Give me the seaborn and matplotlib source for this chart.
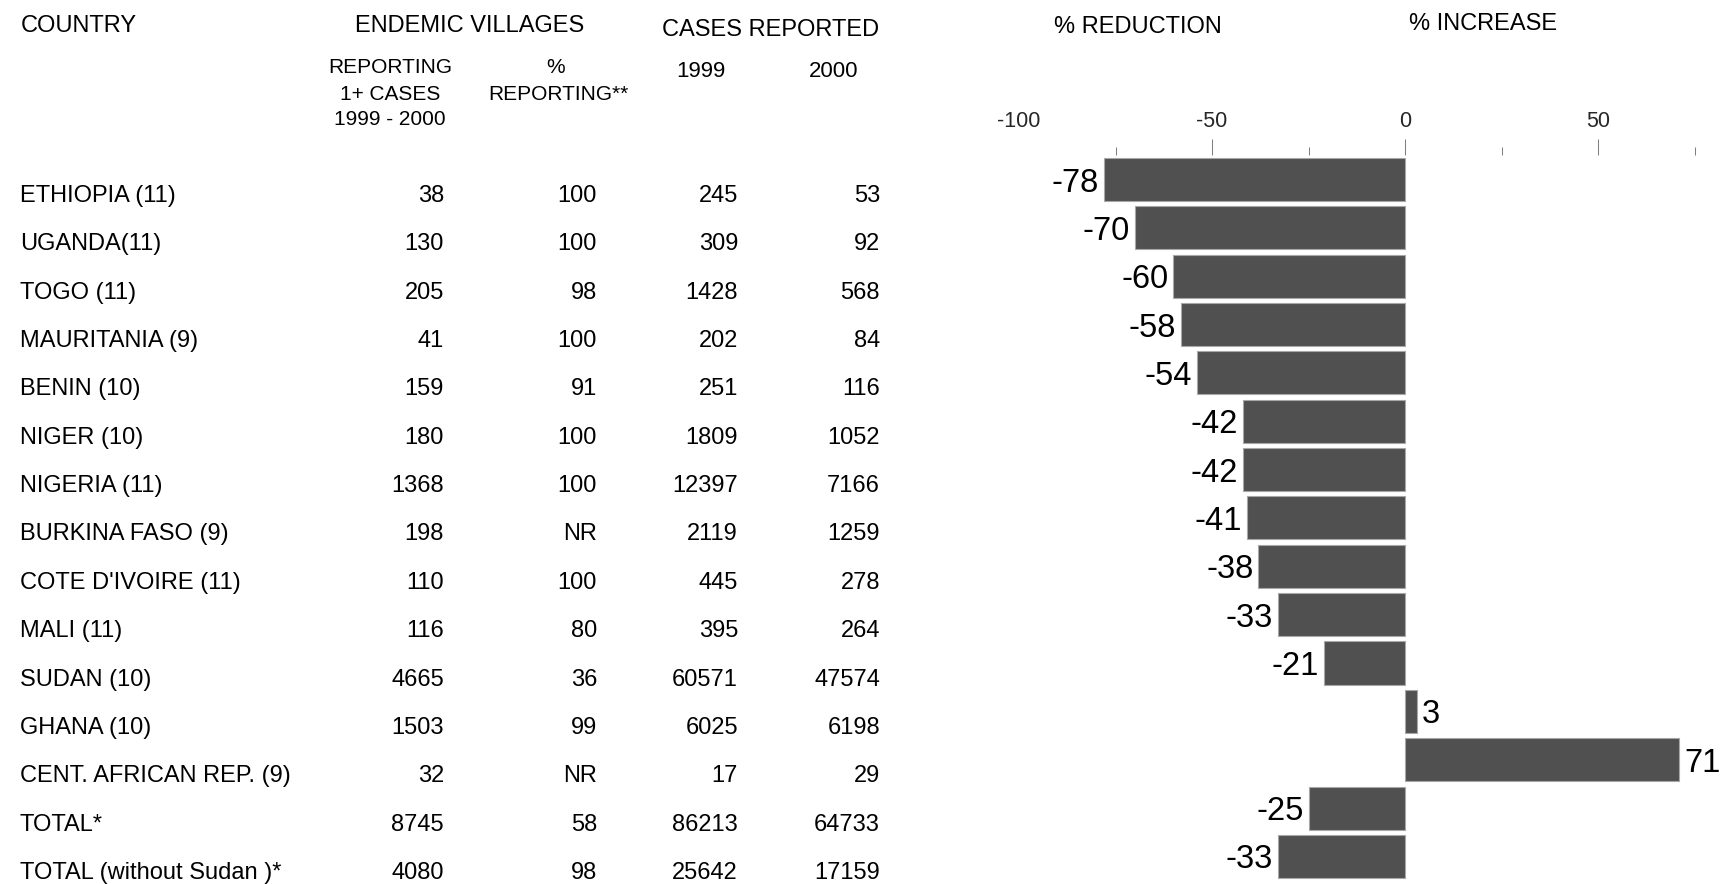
import matplotlib
matplotlib.use("Agg")
import matplotlib.pyplot as plt
import seaborn as sns
import pandas as pd

# ---------------- data ----------------
countries = ["ETHIOPIA (11)", "UGANDA(11)", "TOGO (11)", "MAURITANIA (9)", "BENIN (10)",
             "NIGER (10)", "NIGERIA (11)", "BURKINA FASO (9)", "COTE D'IVOIRE (11)",
             "MALI (11)", "SUDAN (10)", "GHANA (10)", "CENT. AFRICAN REP. (9)",
             "TOTAL*", "TOTAL (without Sudan )*"]
villages_reporting = [38, 130, 205, 41, 159, 180, 1368, 198, 110, 116, 4665, 1503, 32, 8745, 4080]
pct_reporting = ["100", "100", "98", "100", "91", "100", "100", "NR", "100", "80", "36", "99", "NR", "58", "98"]
cases_1999 = [245, 309, 1428, 202, 251, 1809, 12397, 2119, 445, 395, 60571, 6025, 17, 86213, 25642]
cases_2000 = [53, 92, 568, 84, 116, 1052, 7166, 1259, 278, 264, 47574, 6198, 29, 64733, 17159]
pct_change = [-78, -70, -60, -58, -54, -42, -42, -41, -38, -33, -21, 3, 71, -25, -33]
axis_ticks = [-100, -50, 0, 50]
axis_tick_labels = ["-100", "-50", "0", "50"]
minor_ticks = [-75, -25, 25, 75]

# ---------------- style ----------------
sns.set_style("white")
plt.rcParams["font.family"] = ["Liberation Sans", "DejaVu Sans"]

W, H = 1720, 884
fig = plt.figure(figsize=(W / 100, H / 100), dpi=100)
fig.patch.set_facecolor("white")

def fx(px):
    return px / W

def fy(py):
    return 1 - py / H

ROW = 48.35  # row pitch in pixels

# ---------------- table axes ----------------
ax_tab = fig.add_axes([0, 0, 1, 1])
ax_tab.set_xlim(0, W)
first_baseline = 202
ax_tab.set_ylim((H - first_baseline) / ROW, -first_baseline / ROW)
ax_tab.axis("off")

col_right = [444, 597, 738, 880]
txt_kw = dict(fontsize=17, va="baseline", color="black")
for i, name in enumerate(countries):
    ax_tab.text(20, i, name, ha="left", **txt_kw)
    ax_tab.text(col_right[0], i, str(villages_reporting[i]), ha="right", **txt_kw)
    ax_tab.text(col_right[1], i, pct_reporting[i], ha="right", **txt_kw)
    ax_tab.text(col_right[2], i, str(cases_1999[i]), ha="right", **txt_kw)
    ax_tab.text(col_right[3], i, str(cases_2000[i]), ha="right", **txt_kw)

# ---------------- headers ----------------
def head(x, y, s, size=17, ha="center"):
    fig.text(fx(x), fy(y), s, fontsize=size, ha=ha, va="baseline", color="black")

head(21, 32, "COUNTRY", ha="left")
head(470, 32, "ENDEMIC VILLAGES")
head(771, 36, "CASES REPORTED")
head(390, 73, "REPORTING", 15)
head(390, 100, "1+ CASES", 15)
head(390, 125, "1999 - 2000", 15)
head(556, 73, "%", 15)
head(558, 100, "REPORTING**", 15)
head(701, 77, "1999", 16)
head(834, 77, "2000", 16)
head(1138, 33, "% REDUCTION")
head(1483, 30, "% INCREASE")

# ---------------- bar axes ----------------
zero_px = 1405
ppu = 3.86
left_px = zero_px - 100 * ppu
top_px = 155
ax_bar = fig.add_axes([fx(left_px), 0, fx(W - left_px), (H - top_px) / H])
ax_bar.patch.set_alpha(0)

df = pd.DataFrame({"country": countries, "change": pct_change})
sns.barplot(data=df, x="change", y="country", orient="h", color="#505050",
            saturation=1, width=0.89, edgecolor="#a8a8a8", linewidth=0.8,
            errorbar=None, ax=ax_bar)

bar_c0 = 179.5
ax_bar.set_ylim((H - bar_c0) / ROW, (top_px - bar_c0) / ROW)
ax_bar.set_xlim(-100, (W - zero_px) / ppu)
ax_bar.set_yticks([])
ax_bar.set_xlabel("")
ax_bar.set_ylabel("")
for s in ax_bar.spines.values():
    s.set_visible(False)

anns = ax_bar.bar_label(ax_bar.containers[0], labels=[str(v) for v in pct_change],
                        padding=3.6, fontsize=23.5, color="black")
for a in anns:
    a.set_verticalalignment("center_baseline")

ax_bar.xaxis.tick_top()
ax_bar.set_xticks(axis_ticks)
ax_bar.set_xticklabels(axis_tick_labels)
ax_bar.set_xticks(minor_ticks, minor=True)
ax_bar.tick_params(axis="x", which="major", length=11.5, width=0.75, color="#808080",
                   labelsize=15.5, pad=5, top=True, bottom=False,
                   labeltop=True, labelbottom=False)
ax_bar.tick_params(axis="x", which="minor", length=5.8, width=0.75, color="#808080",
                   top=True, bottom=False)
ax_bar.xaxis.get_major_ticks()[0].tick2line.set_visible(False)

fig.savefig("out.png", dpi=100, facecolor="white")
